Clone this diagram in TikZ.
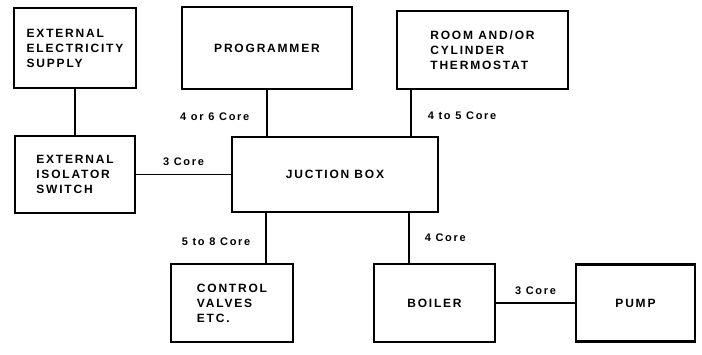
\documentclass[tikz,border=0pt]{standalone}
\usepackage{fontspec}
\newfontfamily\diafont[LetterSpace=15]{Liberation Sans}
\usetikzlibrary{positioning}

\begin{document}
\begin{tikzpicture}[
    x=1pt, y=1pt,
    box/.style={rectangle, draw, line width=2.2pt, outer sep=0pt, minimum width=122pt, minimum height=78pt, align=left, font=\diafont\bfseries\fontsize{12}{15}\selectfont},
    wire/.style={line width=1.6pt},
    core/.style={inner sep=0pt, font=\diafont\bfseries\fontsize{11}{13}\selectfont}
]
\useasboundingbox (0,0) rectangle (702,354);

% Top row
\node[box, minimum height=80pt] (supply) at (75,306) {EXTERNAL\\ELECTRICITY\\SUPPLY};
\node[box, right=46pt of supply, minimum width=170pt, minimum height=82pt] (prog) {PROGRAMMER};
\node[box, right=45pt of prog, yshift=-2pt, minimum width=171pt] (thermo) {ROOM AND/OR\\CYLINDER\\THERMOSTAT};

% Middle row
\node[box, below=48pt of supply, minimum width=120pt, minimum height=77pt] (isolator) {EXTERNAL\\ISOLATOR\\SWITCH};
\node[box, right=97pt of isolator, minimum width=206pt, minimum height=75pt] (jb) {JUCTION BOX};

% Bottom row
\node[box, below=52pt of jb.south west] (valves) {CONTROL\\VALVES\\ETC.};
\node[box, right=81pt of valves, minimum width=121pt] (boiler) {BOILER};
\node[box, right=81pt of boiler, minimum width=119pt, minimum height=77pt] (pump) {PUMP};

% Wire ends on the junction box
\coordinate (tw) at ([xshift=14pt]thermo.south west);
\coordinate (vw) at ([xshift=34pt]jb.south west);
\coordinate (bw) at ([xshift=-29pt]jb.south east);

% Cables
\draw[wire] (supply.south) -- (supply.south |- isolator.north);
\draw[wire] (isolator.east) -- node[core, above=8pt] {3 Core} (isolator.east -| jb.west);
\draw[wire] (prog.south) -- node[core, pos=0.57, left=17pt] {4 or 6 Core} (prog.south |- jb.north);
\draw[wire] (tw) -- node[core, pos=0.56, right=16pt] {4 to 5 Core} (tw |- jb.north);
\draw[wire] (vw) -- node[core, pos=0.58, left=15pt] {5 to 8 Core} (vw |- valves.north);
\draw[wire] (bw) -- node[core, right=15pt] {4 Core} (bw |- boiler.north);
\draw[wire] (boiler.east) -- node[core, above=8pt] {3 Core} (pump.west);

\end{tikzpicture}
\end{document}
